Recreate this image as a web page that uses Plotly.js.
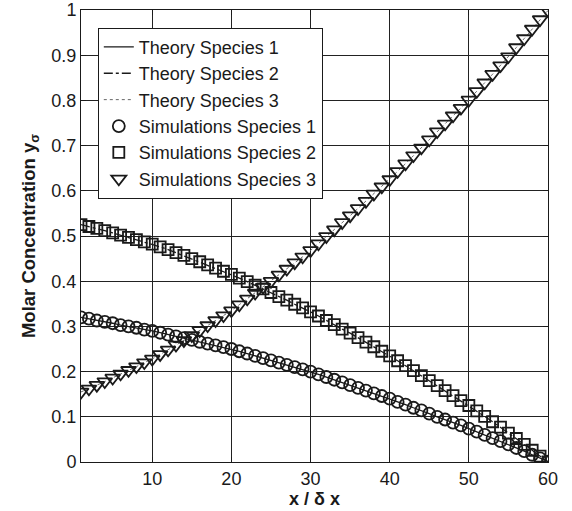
<!DOCTYPE html>
<html>
<head>
<meta charset="utf-8">
<script src="https://cdn.plot.ly/plotly-3.0.1.min.js"></script>
<style>html,body{margin:0;padding:0;background:#fff;}#chart{width:572px;height:511px;}</style>
</head>
<body>
<div id="chart"></div>
<script>
// Position x / delta x (lattice nodes)
const xNodes = [1,2,3,4,5,6,7,8,9,10,11,12,13,14,15,16,17,18,19,20,21,22,23,24,25,26,27,28,29,30,
  31,32,33,34,35,36,37,38,39,40,41,42,43,44,45,46,47,48,49,50,51,52,53,54,55,56,57,58,59,60];

// Molar concentration, species 1 (circles / solid line)
const species1 = [0.320,0.317,0.313,0.310,0.307,0.303,0.300,0.297,0.293,0.290,
  0.286,0.282,0.278,0.274,0.270,0.266,0.262,0.258,0.254,0.250,
  0.245,0.240,0.235,0.230,0.225,0.220,0.215,0.210,0.205,0.200,
  0.194,0.188,0.182,0.176,0.170,0.164,0.158,0.152,0.146,0.140,
  0.133,0.127,0.120,0.114,0.107,0.100,0.094,0.087,0.081,0.074,
  0.067,0.060,0.053,0.046,0.039,0.031,0.024,0.016,0.008,0.001];

// Molar concentration, species 2 (squares / dash-dot line)
const species2 = [0.525,0.521,0.517,0.512,0.507,0.502,0.497,0.492,0.487,0.482,
  0.476,0.470,0.463,0.457,0.450,0.443,0.436,0.429,0.422,0.415,
  0.407,0.399,0.391,0.383,0.375,0.366,0.358,0.349,0.341,0.332,
  0.323,0.313,0.304,0.294,0.285,0.275,0.265,0.255,0.245,0.235,
  0.224,0.213,0.202,0.191,0.180,0.169,0.158,0.147,0.136,0.125,
  0.113,0.101,0.089,0.077,0.064,0.052,0.039,0.026,0.013,0.000];

// Molar concentration, species 3 (triangles / dotted line)
const species3 = [0.155,0.162,0.170,0.178,0.186,0.195,0.203,0.211,0.220,0.228,
  0.238,0.248,0.259,0.269,0.280,0.291,0.302,0.313,0.324,0.335,
  0.348,0.361,0.374,0.387,0.400,0.414,0.427,0.441,0.454,0.468,
  0.483,0.499,0.514,0.530,0.545,0.561,0.577,0.593,0.609,0.625,
  0.643,0.660,0.678,0.695,0.713,0.731,0.748,0.766,0.783,0.801,
  0.820,0.839,0.858,0.877,0.897,0.917,0.937,0.958,0.979,0.999];

const xTicks = [10,20,30,40,50,60];
const yTicks = [0,0.1,0.2,0.3,0.4,0.5,0.6,0.7,0.8,0.9,1];
const yTickText = ['0','0.1','0.2','0.3','0.4','0.5','0.6','0.7','0.8','0.9','1'];

const ink = '#1a1a1a';
const fontFam = 'Liberation Sans, Arial, Helvetica, sans-serif';

const traces = [
  {x: xNodes, y: species1, mode: 'lines', name: 'Theory Species 1',
   line: {color: ink, width: 1.3, dash: 'solid'}},
  {x: xNodes, y: species2, mode: 'lines', name: 'Theory Species 2',
   line: {color: ink, width: 1.3, dash: 'dashdot'}},
  {x: xNodes, y: species3, mode: 'lines', name: 'Theory Species 3',
   line: {color: '#666', width: 1, dash: 'dot'}},
  {x: xNodes, y: species1, mode: 'markers', name: 'Simulations Species 1',
   marker: {symbol: 'circle-open', size: 12, color: ink, line: {color: ink, width: 1.8}}},
  {x: xNodes, y: species2, mode: 'markers', name: 'Simulations Species 2',
   marker: {symbol: 'square-open', size: 11, color: ink, line: {color: ink, width: 1.8}}},
  {x: xNodes, y: species3, mode: 'markers', name: 'Simulations Species 3',
   marker: {symbol: 'triangle-down-open', size: 13, color: ink, line: {color: ink, width: 1.8}}}
];

const layout = {
  width: 572, height: 511,
  margin: {l: 81, r: 24, t: 10, b: 49},
  paper_bgcolor: '#fff', plot_bgcolor: '#fff',
  font: {family: fontFam, size: 18, color: ink},
  showlegend: true,
  legend: {
    x: 0.036, y: 0.961, xanchor: 'left', yanchor: 'top',
    bgcolor: '#fff', bordercolor: ink, borderwidth: 1,
    font: {family: fontFam, size: 18, color: ink},
    tracegroupgap: 0, itemwidth: 30
  },
  xaxis: {
    range: [1, 60], tickmode: 'array', tickvals: xTicks,
    showgrid: true, gridcolor: '#222', gridwidth: 1,
    zeroline: false, showline: true, linecolor: ink, linewidth: 1, mirror: 'ticks',
    ticks: 'inside', ticklen: 5, tickcolor: ink, ticklabeloverflow: 'allow',
    tickfont: {family: fontFam, size: 18, color: ink},
    title: {text: '<b>x / δ x</b>', font: {family: fontFam, size: 18, color: ink}, standoff: 2}
  },
  yaxis: {
    range: [0, 1], tickmode: 'array', tickvals: yTicks, ticktext: yTickText,
    showgrid: true, gridcolor: '#222', gridwidth: 1,
    zeroline: false, showline: true, linecolor: ink, linewidth: 1, mirror: 'ticks',
    ticks: 'inside', ticklen: 5, tickcolor: ink, ticklabeloverflow: 'allow',
    tickfont: {family: fontFam, size: 18, color: ink},
    title: {text: '<b>Molar Concentration y<sub>σ</sub></b>', font: {family: fontFam, size: 18.5, color: ink}, standoff: 10}
  }
};

Plotly.newPlot('chart', traces, layout, {displayModeBar: false, staticPlot: true});
</script>
</body>
</html>
